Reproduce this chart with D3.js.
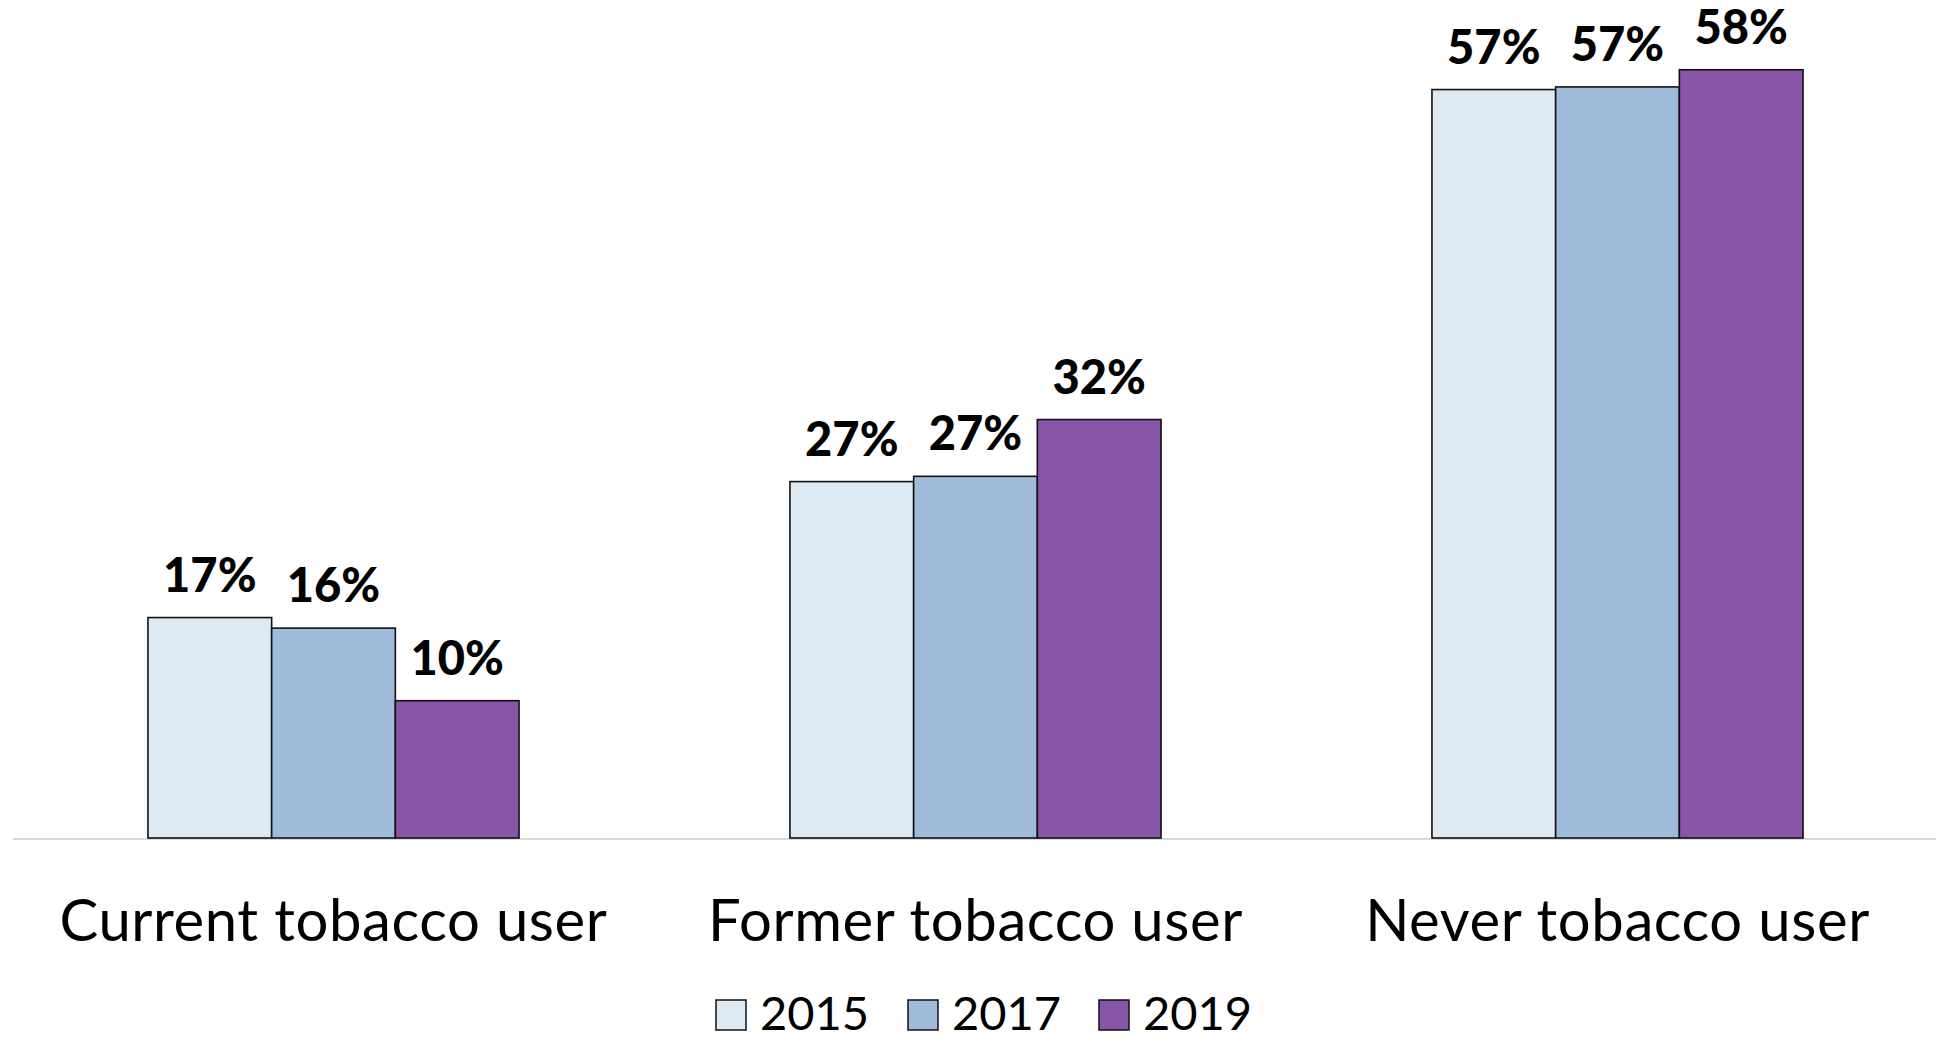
<!DOCTYPE html>
<html>
<head>
<meta charset="utf-8">
<script src="https://cdn.jsdelivr.net/npm/d3@7"></script>
<style>
html,body{margin:0;padding:0;background:#fff;}
svg{display:block;}
</style>
</head>
<body>
<svg id="chart" width="1936" height="1037"></svg>
<script>
const categories = ["Current tobacco user", "Former tobacco user", "Never tobacco user"];
const years = ["2015", "2017", "2019"];
const values2015 = [16.7, 27.0, 56.7];
const values2017 = [15.9, 27.4, 56.9];
const values2019 = [10.4, 31.7, 58.2];
const labels2015 = ["17%", "27%", "57%"];
const labels2017 = ["16%", "27%", "57%"];
const labels2019 = ["10%", "32%", "58%"];
const colors = ["#deeaf3", "#a0bbd9", "#8856a6"];

const seriesValues = [values2015, values2017, values2019];
const seriesLabels = [labels2015, labels2017, labels2019];

const svg = d3.select("#chart");
const baseY = 838;

const x0 = d3.scaleBand().domain(categories).range([12.5, 1938.5]).paddingInner(0.422).paddingOuter(0.211);
const x1 = d3.scaleBand().domain(years).range([0, x0.bandwidth()]).padding(0);
const y = d3.scaleLinear().domain([0, 60]).range([baseY, baseY - 792]);
const color = d3.scaleOrdinal().domain(years).range(colors);

const data = [];
categories.forEach((c, i) => {
  years.forEach((yr, j) => {
    data.push({cat: c, year: yr, value: seriesValues[j][i], label: seriesLabels[j][i]});
  });
});

// baseline
svg.append("line")
  .attr("x1", 13).attr("x2", 1936)
  .attr("y1", baseY + 1).attr("y2", baseY + 1)
  .attr("stroke", "#d9d9d9").attr("stroke-width", 2);

const g = svg.append("g");
g.selectAll("rect.bar").data(data).enter().append("rect")
  .attr("class", "bar")
  .attr("x", d => x0(d.cat) + x1(d.year))
  .attr("y", d => y(d.value))
  .attr("width", x1.bandwidth())
  .attr("height", d => baseY - y(d.value))
  .attr("fill", d => color(d.year))
  .attr("stroke", "#111")
  .attr("stroke-width", 1.6);

g.selectAll("text.val").data(data).enter().append("text")
  .attr("class", "val")
  .attr("x", d => x0(d.cat) + x1(d.year) + x1.bandwidth() / 2)
  .attr("y", d => y(d.value) - 26)
  .attr("text-anchor", "middle")
  .attr("font-family", "Lato, 'Open Sans', sans-serif")
  .attr("font-weight", "900")
  .attr("font-size", 47)
  .attr("fill", "#000")
  .text(d => d.label);

// category axis (no line/ticks)
const xAxis = d3.axisBottom(x0).tickSize(0).tickPadding(0);
const axG = svg.append("g").attr("transform", `translate(0, ${baseY})`).call(xAxis);
axG.select(".domain").remove();
axG.selectAll("text")
  .attr("y", 103)
  .attr("dy", 0)
  .attr("font-family", "Lato, 'Open Sans', sans-serif")
  .attr("font-size", 58)
  .attr("letter-spacing", 0.6)
  .attr("fill", "#000");

// legend
const legend = svg.append("g");
const legX = [716, 908, 1099];
years.forEach((yr, i) => {
  const lg = legend.append("g").attr("transform", `translate(${legX[i]}, 1000)`);
  lg.append("rect").attr("x", 0).attr("y", 0).attr("width", 30).attr("height", 30)
    .attr("fill", color(yr)).attr("stroke", "#111").attr("stroke-width", 1.5);
  lg.append("text").attr("x", 44).attr("y", 29.5)
    .attr("font-family", "Lato, 'Open Sans', sans-serif")
    .attr("font-size", 47).attr("fill", "#000").text(yr);
});
</script>
</body>
</html>
